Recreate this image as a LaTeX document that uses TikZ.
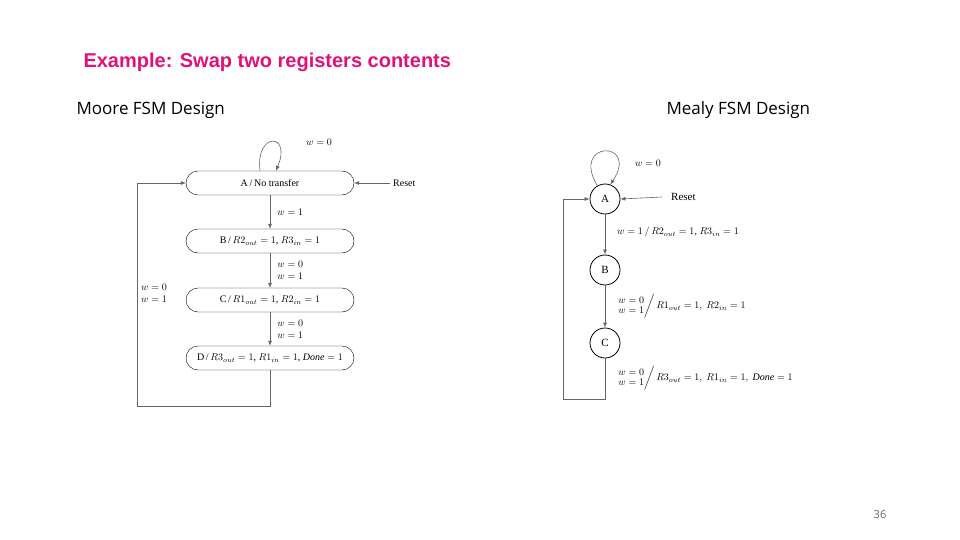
\documentclass[tikz,border=0pt]{standalone}
\usepackage{fontspec}
\setmainfont{Liberation Serif}
\newfontfamily\titlefont{Liberation Sans}
\newfontfamily\headfont{Open Sans}
\usetikzlibrary{arrows.meta}
\definecolor{pink}{HTML}{E0127A}
\begin{document}
\begin{tikzpicture}[x=1pt,y=-1pt,
  st/.style={draw,rounded corners=12pt,minimum width=168pt,minimum height=24pt,inner sep=0pt,font=\fontsize{10}{11}\selectfont},
  ms/.style={draw,circle,minimum size=30pt,inner sep=0pt,font=\fontsize{11}{12}\selectfont,line width=0.8pt},
  ar/.style={draw=black!60,-{Latex[length=5pt,width=4pt]},line width=0.6pt},
  lb/.style={font=\fontsize{10}{12}\selectfont,inner sep=1pt,align=left},
  every node/.append style={text=black}]
\useasboundingbox (0,0) rectangle (960,540);
\node[font=\titlefont\bfseries\fontsize{20}{22}\selectfont,text=pink,anchor=west] (title) at (80,62) {Example: Swap two registers contents};
\node[font=\headfont\fontsize{17}{19}\selectfont,anchor=west] (h1) at (73,110) {Moore FSM Design};
\node[font=\headfont\fontsize{17}{19}\selectfont,anchor=west] (h2) at (663,110) {Mealy FSM Design};
\node[font=\headfont\fontsize{11}{12}\selectfont,text=black!60] (pg) at (880,515) {36};
% Moore
\node[st] (A) at (270,183) {A\,/\,No transfer};
\node[st] (B) at (270,241) {B\,/\,$R2_{out}=1$, $R3_{in}=1$};
\node[st] (C) at (270,300) {C\,/\,$R1_{out}=1$, $R2_{in}=1$};
\node[st] (D) at (270,358) {D\,/\,$R3_{out}=1$, $R1_{in}=1$, $\mathit{Done}=1$};
\draw[ar] (A.north) ++(-10,0) .. controls (255,132) and (292,132) .. ([xshift=6pt]A.north);
\node[lb,anchor=west] (l0) at (305,142) {$w=0$};
\coordinate (rs) at (390,183);
\node[lb,anchor=west] (rst) at (392,183) {Reset};
\draw[ar] (rs) -- (A.east);
\draw[ar] (A) -- (B) node[lb,midway,anchor=west,xshift=6pt] {$w=1$};
\draw[ar] (B) -- (C) node[lb,midway,anchor=west,xshift=6pt] {$w=0$\\$w=1$};
\draw[ar] (C) -- (D) node[lb,midway,anchor=west,xshift=6pt] {$w=0$\\$w=1$};
\coordinate (m1) at (270,406);
\coordinate (m2) at (137,406);
\coordinate (m3) at (137,183);
\draw[ar] (D.south) -- (m1) -- (m2) -- (m3) -- (A.west);
\node[lb,anchor=west] (lr) at (140,293) {$w=0$\\$w=1$};
% Mealy
\node[ms] (MA) at (605,199) {A};
\node[ms] (MB) at (605,270) {B};
\node[ms] (MC) at (605,343) {C};
\draw[ar] (MA.120) .. controls (570,140) and (640,140) .. (MA.70);
\node[lb,anchor=west] (ml0) at (634,163) {$w=0$};
\coordinate (mrs) at (662,197);
\node[lb,anchor=west,font=\fontsize{11}{12}\selectfont] (mrst) at (670,197) {Reset};
\draw[ar] (mrs) -- (MA.east);
\draw[ar] (MA) -- (MB);
\node[lb,anchor=west] (ml1) at (616,232) {$w=1\,/\,R2_{out}=1$, $R3_{in}=1$};
\draw[ar] (MB) -- (MC);
\node[lb,anchor=west] (ml2) at (616,306) {$\left.\begin{array}{@{}l@{}}w=0\\[-2pt] w=1\end{array}\right/ R1_{out}=1,\ R2_{in}=1$};
\coordinate (n1) at (605,399);
\coordinate (n2) at (563,399);
\coordinate (n3) at (563,199);
\draw[ar] (MC.south) -- (n1) -- (n2) -- (n3) -- (MA.west);
\node[lb,anchor=west] (ml3) at (616,378) {$\left.\begin{array}{@{}l@{}}w=0\\[-2pt] w=1\end{array}\right/ R3_{out}=1,\ R1_{in}=1,\ \mathit{Done}=1$};
\end{tikzpicture}
\end{document}
